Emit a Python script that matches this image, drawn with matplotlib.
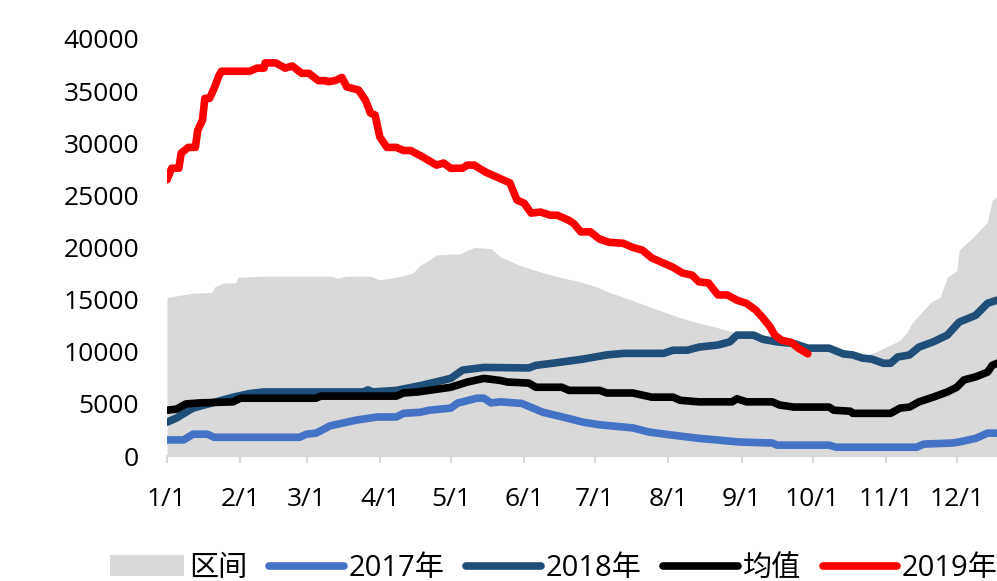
import numpy as np
import matplotlib
matplotlib.use("Agg")
import matplotlib.pyplot as plt

plt.rcParams['font.family'] = ['Open Sans', 'Noto Sans CJK SC', 'DejaVu Sans']

# day of year (0 = 1/1) and values
range_days = [0, 10, 19, 20, 24, 29, 30, 41, 70, 72, 76, 86, 90, 97, 104, 107, 111, 114,
              124, 127, 130, 137, 141, 149, 158, 166, 175, 182, 187, 194, 200, 208, 216,
              225, 234, 239, 241, 248, 252, 258, 265, 271, 281, 286, 290, 294, 296, 300,
              304, 310, 313, 315, 320, 323, 327, 330, 334, 335, 341, 347, 349, 351]
range_top = [15200, 15600, 15700, 16200, 16600, 16600, 17150, 17250, 17250, 17050, 17250,
             17250, 16900, 17150, 17550, 18300, 18800, 19300, 19400, 19750, 20000, 19900,
             19100, 18300, 17650, 17150, 16700, 16200, 15700, 15150, 14650, 14000, 13350,
             12750, 12250, 11900, 11600, 11600, 11200, 10950, 10800, 10350, 10350, 9800,
             9700, 9500, 9700, 10000, 10450, 11100, 11900, 12750, 14000, 14750, 15250,
             17150, 17800, 19750, 21000, 22450, 24550, 24850]

d2017 = [0, 7, 11, 17, 20, 56, 59, 63, 69, 74, 80, 89, 97, 100, 107, 111, 120, 123, 125,
         131, 134, 137, 141, 150, 159, 169, 176, 183, 197, 204, 214, 225, 242, 256, 258,
         280, 283, 317, 320, 332, 335, 342, 347, 351]
v2017 = [1550, 1550, 2100, 2100, 1800, 1800, 2100, 2200, 2900, 3150, 3450, 3750, 3750, 4100,
         4200, 4400, 4600, 5100, 5200, 5550, 5550, 5100, 5200, 5050, 4200, 3650, 3250, 3000,
         2700, 2300, 2000, 1700, 1350, 1250, 1050, 1050, 850, 850, 1150, 1250, 1350, 1700,
         2200, 2200]

d2018 = [0, 4, 8, 11, 28, 35, 41, 83, 85, 87, 97, 108, 120, 125, 134, 153, 156, 163, 176,
         186, 193, 210, 214, 220, 225, 233, 238, 241, 248, 252, 258, 265, 271, 280, 286,
         290, 294, 298, 303, 306, 309, 314, 318, 324, 330, 335, 342, 347, 351]
v2018 = [3250, 3650, 4200, 4600, 5650, 6000, 6150, 6150, 6350, 6150, 6300, 6800, 7450, 8250,
         8500, 8450, 8700, 8900, 9300, 9700, 9850, 9850, 10150, 10150, 10450, 10650, 10950,
         11600, 11600, 11200, 10950, 10800, 10350, 10350, 9800, 9700, 9400, 9300, 8900, 8900,
         9500, 9700, 10450, 10950, 11600, 12850, 13500, 14650, 14950]

d_mean = [0, 4, 8, 14, 28, 31, 63, 65, 97, 100, 106, 120, 127, 134, 141, 144, 153, 156,
          167, 170, 183, 186, 197, 205, 214, 217, 225, 239, 241, 245, 256, 259, 265, 280,
          282, 289, 290, 306, 310, 314, 318, 324, 330, 334, 337, 342, 347, 349, 351]
v_mean = [4400, 4500, 5000, 5100, 5200, 5550, 5550, 5750, 5750, 6050, 6150, 6600, 7100, 7450,
          7250, 7100, 7000, 6600, 6600, 6300, 6300, 6050, 6050, 5650, 5650, 5350, 5200, 5200,
          5500, 5200, 5200, 4900, 4700, 4700, 4400, 4300, 4100, 4100, 4600, 4700, 5200, 5650,
          6150, 6600, 7300, 7600, 8050, 8700, 8900]

d2019 = [0, 2, 5, 6, 9, 12, 13, 15, 16, 18, 20, 22, 23, 35, 38, 41, 41.5, 46, 50, 53, 57,
         60, 64, 67, 68, 71, 74, 76, 81, 84, 86, 88, 90, 93, 97, 100, 103, 108, 114, 117,
         120, 125, 127, 130, 132, 135, 140, 145, 148, 151, 154, 158, 162, 165, 170, 172,
         175, 179, 183, 187, 193, 197, 201, 205, 210, 214, 218, 222, 225, 229, 233, 237,
         241, 245, 249, 252, 255, 257, 260, 264, 267, 271]
v2019 = [26500, 27600, 27600, 29050, 29600, 29600, 31250, 32200, 34300, 34300, 35300, 36500,
         36900, 36900, 37200, 37200, 37700, 37700, 37200, 37400, 36700, 36700, 36000, 36000,
         35900, 36000, 36300, 35400, 35100, 34100, 32900, 32700, 30600, 29600, 29600, 29300,
         29300, 28700, 27900, 28100, 27600, 27600, 27900, 27900, 27600, 27200, 26700, 26200,
         24550, 24250, 23300, 23400, 23100, 23100, 22600, 22300, 21500, 21500, 20800, 20500,
         20400, 20000, 19750, 19000, 18500, 18100, 17550, 17350, 16700, 16600, 15450, 15450,
         14950, 14650, 14000, 13250, 12400, 11600, 11100, 10900, 10350, 9800]

month_days = [0, 31, 59, 90, 120, 151, 181, 212, 243, 273, 304, 334]
month_labels = ['1/1', '2/1', '3/1', '4/1', '5/1', '6/1', '7/1', '8/1', '9/1', '10/1',
                '11/1', '12/1']

fig = plt.figure(figsize=(9.97, 5.81), dpi=100)
ax = fig.add_axes([0.1675, 0.215, 0.8325, 0.718])

ax.fill_between(range_days, 0, range_top, color='#D9D9D9', linewidth=0, label='区间')
kw = dict(linewidth=5.5, solid_capstyle='round', solid_joinstyle='round')
ax.plot(d2017, v2017, color='#4472C4', label='2017年', **kw)
ax.plot(d2018, v2018, color='#1F4E79', label='2018年', **kw)
ax.plot(d_mean, v_mean, color='#000000', label='均值', **kw)
ax.plot(d2019, v2019, color='#FF0000', label='2019年', **kw)

ax.set_xlim(0, 351)
ax.set_ylim(0, 40000)
ax.set_yticks(range(0, 40001, 5000))
ax.set_xticks(month_days)
ax.set_xticklabels(month_labels)

for s in ['top', 'right', 'left']:
    ax.spines[s].set_visible(False)
ax.spines['bottom'].set_color('#D9D9D9')
ax.spines['bottom'].set_linewidth(1.5)
ax.tick_params(axis='y', length=0, pad=20, labelsize=19)
ax.tick_params(axis='x', length=5, width=1.5, color='#D9D9D9', pad=17, labelsize=19)

# legend runs off the right edge, as in the original
fig.legend(loc='center left', bbox_to_anchor=(0.110, 0.022), ncol=5, frameon=False,
           fontsize=21, handlelength=2.55, handletextpad=0.17, columnspacing=0.75,
           borderaxespad=0, borderpad=0)

fig.savefig('out.png', dpi=100)
